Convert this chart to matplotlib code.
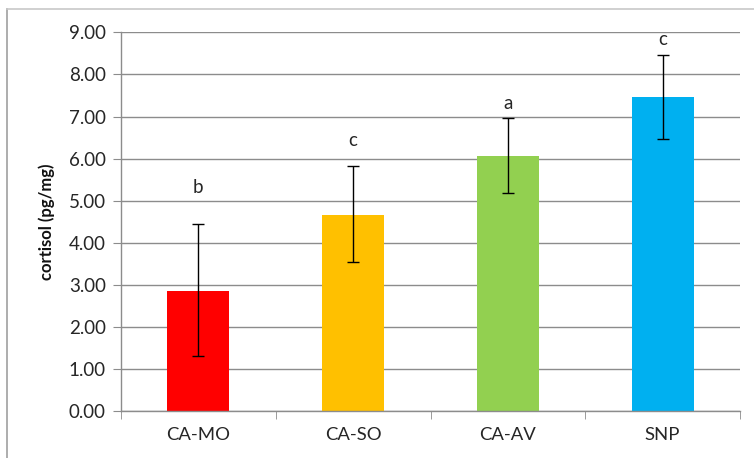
import matplotlib
matplotlib.use("Agg")
import matplotlib.pyplot as plt
from matplotlib.lines import Line2D

categories = ["CA-MO", "CA-SO", "CA-AV", "SNP"]
means = [2.86, 4.66, 6.07, 7.46]
err_low = [1.31, 3.54, 5.19, 6.46]
err_high = [4.44, 5.83, 6.96, 8.46]
letters = ["b", "c", "a", "c"]
letter_y = [5.32, 6.44, 7.30, 8.82]
colors = ["#FF0000", "#FFC000", "#92D050", "#00B0F0"]
yticks = [0, 1, 2, 3, 4, 5, 6, 7, 8, 9]

plt.rcParams["font.family"] = ["Lato", "DejaVu Sans"]

fig = plt.figure(figsize=(7.54, 4.58), dpi=100)
ax = fig.add_axes([121 / 754, 1 - 411.3 / 458, (740 - 121) / 754, (411.3 - 32.3) / 458])

x = list(range(len(categories)))
yerr = [[m - lo for m, lo in zip(means, err_low)],
        [hi - m for m, hi in zip(means, err_high)]]
ax.bar(x, means, width=0.40, color=colors, zorder=2)
ax.errorbar(x, means, yerr=yerr, fmt="none", ecolor="black", elinewidth=1.0,
            capsize=4.5, capthick=1.0, zorder=3)

for xi, lab, ly in zip(x, letters, letter_y):
    ax.text(xi, ly, lab, ha="center", va="center", fontsize=13.5, color="#262626")

ax.set_xlim(-0.5, len(categories) - 0.5)
ax.set_ylim(0, 9)
ax.set_yticks(yticks)
ax.set_yticklabels([f"{v:.2f}" for v in yticks])
ax.yaxis.grid(True, color="#8C8C8C", linewidth=1.0, zorder=0)
ax.set_axisbelow(True)

ax.set_xticks(x)
ax.set_xticklabels(categories)
ax.set_xticks([i - 0.5 for i in range(len(categories) + 1)], minor=True)
ax.tick_params(axis="x", which="major", length=0, pad=11, labelsize=13.3, labelcolor="#262626")
ax.tick_params(axis="x", which="minor", length=6, color="#8C8C8C", direction="out")
ax.tick_params(axis="y", length=6, color="#8C8C8C", direction="out", pad=5,
               labelsize=13.5, labelcolor="#262626")

for side in ["top", "right"]:
    ax.spines[side].set_visible(False)
for side in ["left", "bottom"]:
    ax.spines[side].set_color("#8C8C8C")
    ax.spines[side].set_linewidth(1.0)

ax.set_ylabel("cortisol (pg/mg)", fontsize=12, fontweight="bold", labelpad=10, color="#111111")

# outer chart-area frame
fig.add_artist(Line2D([7 / 754, 7 / 754], [0, 1 - 9 / 458], transform=fig.transFigure,
                      color="#A0A0A0", linewidth=1.2))
fig.add_artist(Line2D([7 / 754, 1], [1 - 9 / 458, 1 - 9 / 458], transform=fig.transFigure,
                      color="#C8C8C8", linewidth=1.2))

fig.savefig("out.png", dpi=100)
